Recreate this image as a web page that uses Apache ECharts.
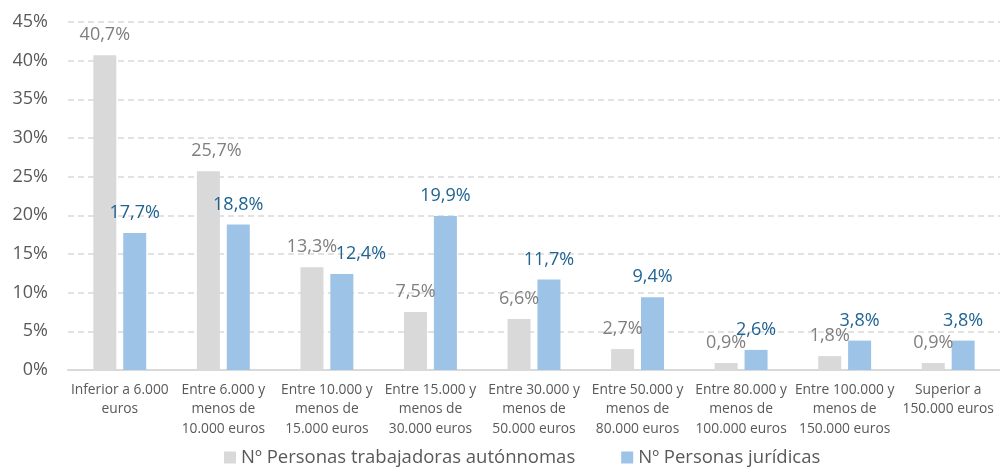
<!DOCTYPE html>
<html>
<head>
<meta charset="utf-8">
<script src="https://cdn.jsdelivr.net/npm/echarts@6/dist/echarts.min.js"></script>
<style>
  html, body { margin: 0; padding: 0; background: #ffffff; }
  #chart { width: 1000px; height: 474px; }
</style>
</head>
<body>
<div id="chart"></div>
<script>
// Income brackets (x-axis categories)
const categories = [
  'Inferior a 6.000\neuros',
  'Entre 6.000 y\nmenos de\n10.000 euros',
  'Entre 10.000 y\nmenos de\n15.000 euros',
  'Entre 15.000 y\nmenos de\n30.000 euros',
  'Entre 30.000 y\nmenos de\n50.000 euros',
  'Entre 50.000 y\nmenos de\n80.000 euros',
  'Entre 80.000 y\nmenos de\n100.000 euros',
  'Entre 100.000 y\nmenos de\n150.000 euros',
  'Superior a\n150.000 euros'
];

// Share of each group per bracket (%)
const autonomos = [40.7, 25.7, 13.3, 7.5, 6.6, 2.7, 0.9, 1.8, 0.9];
const juridicas = [17.7, 18.8, 12.4, 19.9, 11.7, 9.4, 2.6, 3.8, 3.8];

const seriesNames = ['Nº Personas trabajadoras autónnomas', 'Nº Personas jurídicas'];

// y-axis scale
const yMin = 0;
const yMax = 45;
const yStep = 5;

const FONT = '"Open Sans", "Noto Sans", sans-serif';
const fmt = v => v.toFixed(1).replace('.', ',') + '%';

// a couple of labels are nudged sideways to keep them from colliding
const greyNudge = { 1: [8, 0] };
const blueNudge = { 2: [19, 0] };

function items(values, nudge) {
  return values.map((v, i) => nudge[i]
    ? { value: v, label: { offset: nudge[i] } }
    : v);
}

const chart = echarts.init(document.getElementById('chart'), null, { renderer: 'canvas' });

chart.setOption({
  animation: false,
  textStyle: { fontFamily: FONT },
  grid: { left: 68, right: 0, top: 22, bottom: 104, containLabel: false },
  legend: {
    bottom: 2,
    left: 219,
    itemWidth: 12,
    itemHeight: 12,
    itemGap: 46,
    icon: 'rect',
    textStyle: { fontFamily: FONT, fontSize: 18.5, color: '#595959' },
    data: seriesNames
  },
  xAxis: {
    type: 'category',
    data: categories,
    axisLine: { lineStyle: { color: '#d9d9d9', width: 2 } },
    axisTick: { show: false },
    axisLabel: {
      interval: 0,
      margin: 10,
      fontFamily: FONT,
      fontSize: 13.8,
      lineHeight: 19.5,
      color: '#595959',
      align: 'center',
      verticalAlign: 'top'
    }
  },
  yAxis: {
    type: 'value',
    min: yMin,
    max: yMax,
    interval: yStep,
    axisLine: { show: false },
    axisTick: { show: false },
    axisLabel: {
      margin: 20,
      fontFamily: FONT,
      fontSize: 18,
      color: '#595959',
      formatter: '{value}%'
    },
    splitLine: {
      lineStyle: { color: '#d9d9d9', width: 1.5, type: [6, 4] }
    }
  },
  series: [
    {
      name: seriesNames[0],
      type: 'bar',
      data: items(autonomos, greyNudge),
      barWidth: 23,
      barGap: '30%',
      itemStyle: { color: '#d9d9d9' },
      label: {
        show: true,
        position: 'top',
        distance: 11,
        fontFamily: FONT,
        fontSize: 18,
        color: '#7f7f7f',
        formatter: p => fmt(p.value)
      }
    },
    {
      name: seriesNames[1],
      type: 'bar',
      data: items(juridicas, blueNudge),
      barWidth: 23,
      barGap: '30%',
      itemStyle: { color: '#9dc3e6' },
      label: {
        show: true,
        position: 'top',
        distance: 11,
        fontFamily: FONT,
        fontSize: 18,
        color: '#1f6391',
        formatter: p => fmt(p.value)
      }
    }
  ]
});
</script>
</body>
</html>
